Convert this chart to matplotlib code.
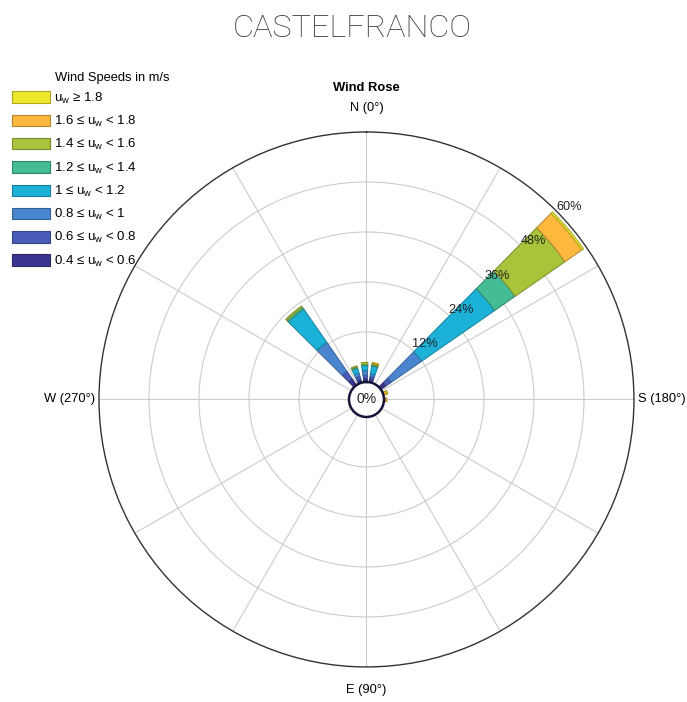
import numpy as np
import matplotlib
matplotlib.use('Agg')
import matplotlib.pyplot as plt
from matplotlib.patches import Patch
from matplotlib.colors import to_rgb

plt.rcParams['font.family'] = ['Liberation Sans', 'DejaVu Sans']
plt.rcParams['mathtext.fontset'] = 'custom'
plt.rcParams['mathtext.rm'] = 'Liberation Sans'
plt.rcParams['mathtext.it'] = 'Liberation Sans'

# direction of each bar (deg, clockwise from the top of the rose)
directions = [320, 339, 357, 14, 50, 71, 91]

# frequency (%) per speed class, one value per direction
f_04_06 = [1.8, 0.8, 0.8, 0.8, 1.5, 0.0, 0.0]
f_06_08 = [2.2, 0.8, 0.8, 0.6, 1.5, 0.0, 0.0]
f_08_10 = [8.5, 0.8, 1.2, 0.6, 8.9, 0.0, 0.0]
f_10_12 = [9.7, 1.2, 1.2, 2.0, 21.3, 0.0, 0.0]
f_12_14 = [0.5, 0.3, 0.2, 0.2, 6.0, 0.0, 0.0]
f_14_16 = [0.4, 0.3, 0.5, 0.3, 14.6, 0.0, 0.4]
f_16_18 = [0.0, 0.0, 0.0, 0.2, 4.9, 0.8, 0.3]
f_18_up = [0.0, 0.0, 0.0, 0.1, 0.5, 0.3, 0.0]

classes = [f_04_06, f_06_08, f_08_10, f_10_12, f_12_14, f_14_16, f_16_18, f_18_up]
labels = ['0.4 ≤ u$_{\\mathrm{w}}$ < 0.6', '0.6 ≤ u$_{\\mathrm{w}}$ < 0.8',
          '0.8 ≤ u$_{\\mathrm{w}}$ < 1', '1 ≤ u$_{\\mathrm{w}}$ < 1.2',
          '1.2 ≤ u$_{\\mathrm{w}}$ < 1.4', '1.4 ≤ u$_{\\mathrm{w}}$ < 1.6',
          '1.6 ≤ u$_{\\mathrm{w}}$ < 1.8', 'u$_{\\mathrm{w}}$ ≥ 1.8']
colors = ['#3a3590', '#4a5bb8', '#4a86cf', '#1cb2d8',
          '#44bc96', '#a8c43a', '#fdb93e', '#ede82e']
edges = [tuple(c * 0.72 for c in to_rgb(col)) for col in colors]

rings = [12, 24, 36, 48, 60]
hole = -4.2   # radius offset of the empty centre circle

fig = plt.figure(figsize=(6.87, 7.02), dpi=100)
ax = fig.add_axes([0.1441, 0.0499, 0.7787, 0.7621], projection='polar')
ax.set_theta_zero_location('N')
ax.set_theta_direction(-1)
ax.set_rorigin(hole)
ax.set_ylim(0, 60)
ax.set_axisbelow(True)

theta = np.deg2rad(directions)
bottom = np.zeros(len(directions))
for vals, col, ec in zip(classes, colors, edges):
    vals = np.array(vals)
    m = vals > 0
    ax.bar(theta[m], vals[m], width=np.deg2rad(10.5), bottom=bottom[m],
           color=col, edgecolor=ec, linewidth=0.7, align='center', zorder=3)
    bottom += vals

ax.set_xticks(np.deg2rad(np.arange(0, 360, 30)))
ax.set_xticklabels([])
ax.set_yticks(rings[:-1])
ax.set_yticklabels([])
ax.grid(True, color='#cccccc', linewidth=0.8)
ax.spines['polar'].set_color('#333333')
ax.spines['polar'].set_linewidth(1.0)
ax.spines['inner'].set_color('#15153a')
ax.spines['inner'].set_linewidth(1.8)
ax.spines['inner'].set_zorder(5)

for r in rings:
    ax.text(np.deg2rad(46.5), r + 3, f'{r}%', ha='center', va='center',
            fontsize=9.2, color='#222222', zorder=6)
ax.text(0.5, 0.5, '0%', transform=ax.transAxes, ha='center', va='center',
        fontsize=10, color='#222222', zorder=6)

ax.text(0.5, 1.045, 'N (0°)', transform=ax.transAxes, ha='center', va='center', fontsize=9.3)
ax.text(0.5, -0.043, 'E (90°)', transform=ax.transAxes, ha='center', va='center', fontsize=9.3)
ax.text(-0.008, 0.5, 'W (270°)', transform=ax.transAxes, ha='right', va='center', fontsize=9.3)
ax.text(1.007, 0.5, 'S (180°)', transform=ax.transAxes, ha='left', va='center', fontsize=9.3)
ax.text(0.5, 1.082, 'Wind Rose', transform=ax.transAxes, ha='center', va='center',
        fontsize=9.4, fontweight='bold')

fig.text(0.513, 0.960, 'CASTELFRANCO', ha='center', va='center', fontsize=23.4,
         family=['Roboto', 'DejaVu Sans'], fontweight='light', color='#3a3a3a')

handles = [Patch(facecolor=c, edgecolor=e, linewidth=0.8) for c, e in zip(colors, edges)]
fig.legend(handles[::-1], labels[::-1], loc='upper left', bbox_to_anchor=(0.0175, 0.8708),
           frameon=False, fontsize=9.5, handlelength=2.9, handleheight=0.95,
           handletextpad=0.25, labelspacing=0.62, borderpad=0, borderaxespad=0)
fig.text(55 / 687, 1 - 78 / 702, 'Wind Speeds in m/s', ha='left', va='center', fontsize=9.3)

fig.savefig('out.png', dpi=100)
